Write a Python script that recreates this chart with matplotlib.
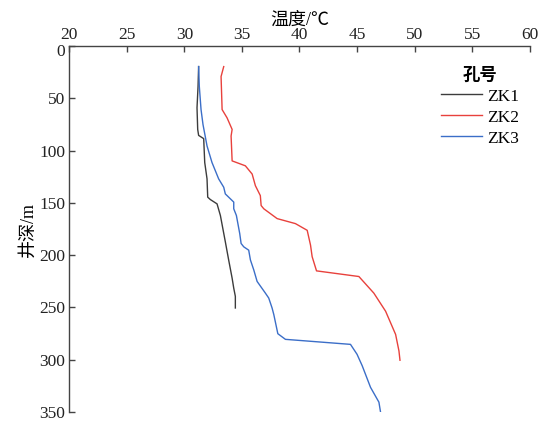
import matplotlib
matplotlib.use("Agg")
import matplotlib.pyplot as plt
import matplotlib.transforms as mtransforms

plt.rcParams['font.family'] = ['Liberation Serif', 'Noto Sans CJK SC', 'DejaVu Sans']

# 温度 (°C) 与 井深 (m)
zk1_temp = [31.24, 31.19, 31.10, 31.16, 31.24, 31.68, 31.77, 31.97, 32.03, 32.26,
            32.84, 33.13, 33.56, 33.85, 34.15, 34.29, 34.43, 34.43]
zk1_depth = [19.6, 38.6, 59.0, 79.7, 85.4, 88.5, 111.3, 127.0, 144.5, 146.8,
             150.9, 162.0, 187.2, 204.6, 222.0, 231.5, 239.4, 250.5]

zk2_temp = [33.42, 33.19, 33.28, 33.71, 34.15, 34.06, 34.15, 35.30, 35.89, 36.17,
            36.60, 36.67, 36.90, 38.06, 39.65, 40.67, 40.96, 41.10, 41.48, 45.16,
            46.46, 47.48, 48.35, 48.64, 48.73]
zk2_depth = [19.6, 29.1, 60.7, 68.6, 79.7, 86.0, 109.8, 114.5, 122.4, 133.5,
             143.0, 152.5, 155.6, 165.0, 169.8, 176.2, 190.4, 201.4, 215.0, 220.4,
             236.3, 253.6, 275.8, 291.6, 300.5]

zk3_temp = [31.24, 31.30, 31.45, 31.62, 31.97, 32.40, 32.98, 33.42, 33.56, 34.29,
            34.29, 34.52, 34.81, 34.93, 35.16, 35.59, 35.74, 36.03, 36.32, 37.04,
            37.33, 37.62, 37.77, 38.12, 38.78, 44.43, 45.00, 45.45, 46.17, 46.90, 47.04]
zk3_depth = [19.6, 38.6, 60.7, 75.0, 95.5, 111.3, 127.0, 135.0, 141.4, 149.2,
             155.6, 162.0, 179.3, 188.8, 192.0, 195.2, 204.6, 214.1, 225.1, 236.3,
             241.0, 250.5, 256.8, 275.1, 280.5, 285.3, 294.8, 305.8, 326.4, 340.6, 350.0]

x_ticks = [20, 25, 30, 35, 40, 45, 50, 55, 60]
y_ticks = [0, 50, 100, 150, 200, 250, 300, 350]

fig = plt.figure(figsize=(5.45, 4.23), dpi=100)
ax = fig.add_axes([0.127, 0.026, 0.845, 0.865])

ax.plot(zk1_temp, zk1_depth, color='#3c3c3c', lw=1.0, label='ZK1')
ax.plot(zk2_temp, zk2_depth, color='#e8413c', lw=1.0, label='ZK2')
ax.plot(zk3_temp, zk3_depth, color='#3b6ec8', lw=1.0, label='ZK3')

ax.set_xlim(20, 60)
ax.set_ylim(350, 0)
ax.set_xticks(x_ticks)
ax.set_yticks(y_ticks)

ax.xaxis.tick_top()
ax.xaxis.set_label_position('top')
ax.spines['right'].set_visible(False)
ax.spines['bottom'].set_visible(False)
for s in ('top', 'left'):
    ax.spines[s].set_color('#444444')
    ax.spines[s].set_linewidth(1.0)
ax.tick_params(axis='both', direction='in', length=4, width=1.0,
               colors='#444444', labelcolor='#222222', labelsize=12.5)
ax.tick_params(axis='x', pad=2)
ax.tick_params(axis='y', pad=3)

# "0" 标签稍微下移，避免与 "20" 重叠
zero_lbl = ax.get_yticklabels()[0]
zero_lbl.set_transform(zero_lbl.get_transform() +
                       mtransforms.ScaledTranslation(0, -3 / 72, fig.dpi_scale_trans))

ax.set_xlabel('温度/℃', fontsize=13, labelpad=2)
ax.set_ylabel('井深/m', fontsize=13, labelpad=2)

leg = ax.legend(title='孔号', frameon=False, fontsize=12.5, title_fontsize=12.5,
                loc='upper right', bbox_to_anchor=(1.01, 0.985),
                handlelength=2.4, handletextpad=0.25, labelspacing=0.28)
leg.get_title().set_fontweight('bold')

fig.savefig('out.png', dpi=100)
